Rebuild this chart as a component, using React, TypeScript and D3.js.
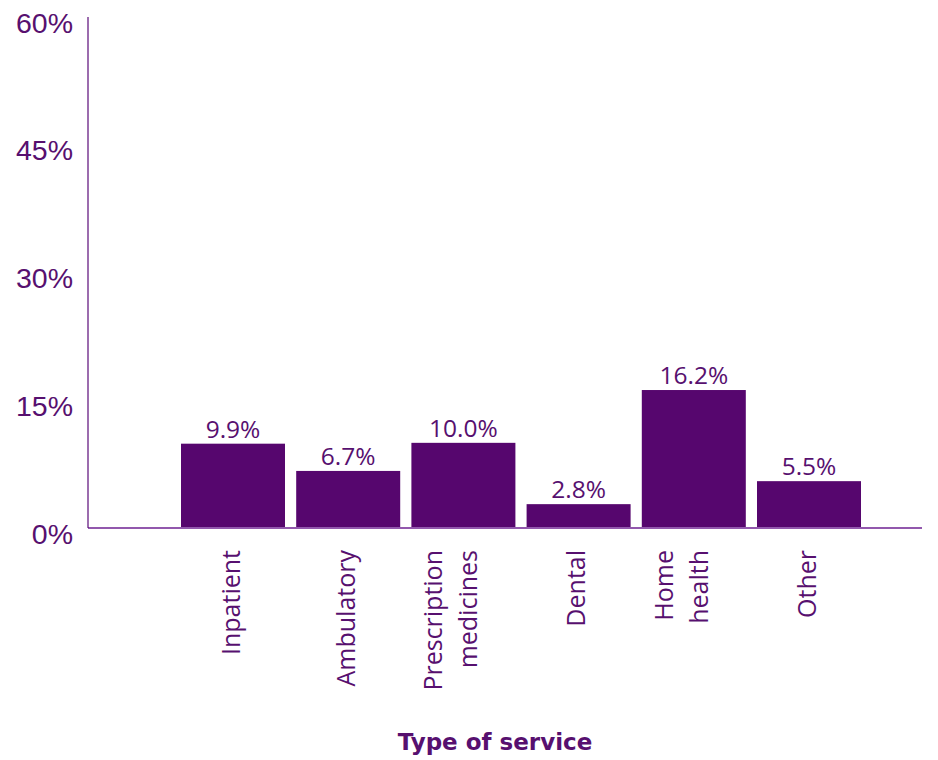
import React from "react";
import * as d3 from "d3";

const categories: string[] = ["Inpatient", "Ambulatory", "Prescription\nmedicines", "Dental", "Home\nhealth", "Other"];
const values: number[] = [9.9, 6.7, 10.0, 2.8, 16.2, 5.5];
const valueLabels: string[] = ["9.9%", "6.7%", "10.0%", "2.8%", "16.2%", "5.5%"];
const yTicks: number[] = [0, 15, 30, 45, 60];
const xTitle = "Type of service";

const W = 938;
const H = 760;
const BAR = "#56066e";
const TXT = "#57106f";

export default function App() {
  const x = d3
    .scaleBand<string>()
    .domain(categories)
    .range([175.4, 866.6])
    .paddingInner(0.0972)
    .paddingOuter(0.0486);
  const y = d3.scaleLinear().domain([0, 60]).range([528, 17]);
  const axisX = 88;

  return (
    <svg width={W} height={H} style={{ position: "absolute", left: 0, top: 0, background: "#fff" }}>
      {/* bars */}
      {categories.map((c, i) => (
        <rect key={c} x={x(c)} y={y(values[i])} width={x.bandwidth()} height={y(0) - y(values[i])} fill={BAR} />
      ))}
      {/* baseline */}
      <line x1={axisX} x2={922} y1={y(0)} y2={y(0)} stroke="#9258ad" strokeWidth={2} />
      {/* y axis */}
      <line x1={axisX} x2={axisX} y1={y(60)} y2={y(0)} stroke="#5a0a78" strokeWidth={1.2} />
      {yTicks.map((t) => (
        <text
          key={t}
          x={73}
          y={y(t) + 15.5}
          textAnchor="end"
          fontFamily="'Liberation Sans', Arial, sans-serif"
          fontSize={28.5}
          fill={TXT}
        >
          {t}%
        </text>
      ))}
      {/* value labels */}
      {categories.map((c, i) => (
        <text
          key={c + "v"}
          x={(x(c) as number) + x.bandwidth() / 2}
          y={y(values[i]) - 6}
          textAnchor="middle"
          fontFamily="'Open Sans', sans-serif"
          fontSize={24.5}
          fill={TXT}
        >
          {valueLabels[i]}
        </text>
      ))}
      {/* category labels */}
      {categories.map((c) => {
        const cx = (x(c) as number) + x.bandwidth() / 2;
        const lines = c.split("\n");
        const offs = lines.length === 1 ? [-2] : [-30, 5];
        return lines.map((ln, j) => (
          <text
            key={c + j}
            transform={`translate(${cx + offs[j]},550) rotate(-90)`}
            dy="0.35em"
            textAnchor="end"
            fontFamily="'Open Sans', sans-serif"
            fontSize={25}
            fill={TXT}
          >
            {ln}
          </text>
        ));
      })}
      {/* x title */}
      <text
        x={495}
        y={750}
        textAnchor="middle"
        fontFamily="'DejaVu Sans', Tahoma, sans-serif"
        fontWeight="bold"
        fontSize={23}
        fill={TXT}
      >
        {xTitle}
      </text>
    </svg>
  );
}
